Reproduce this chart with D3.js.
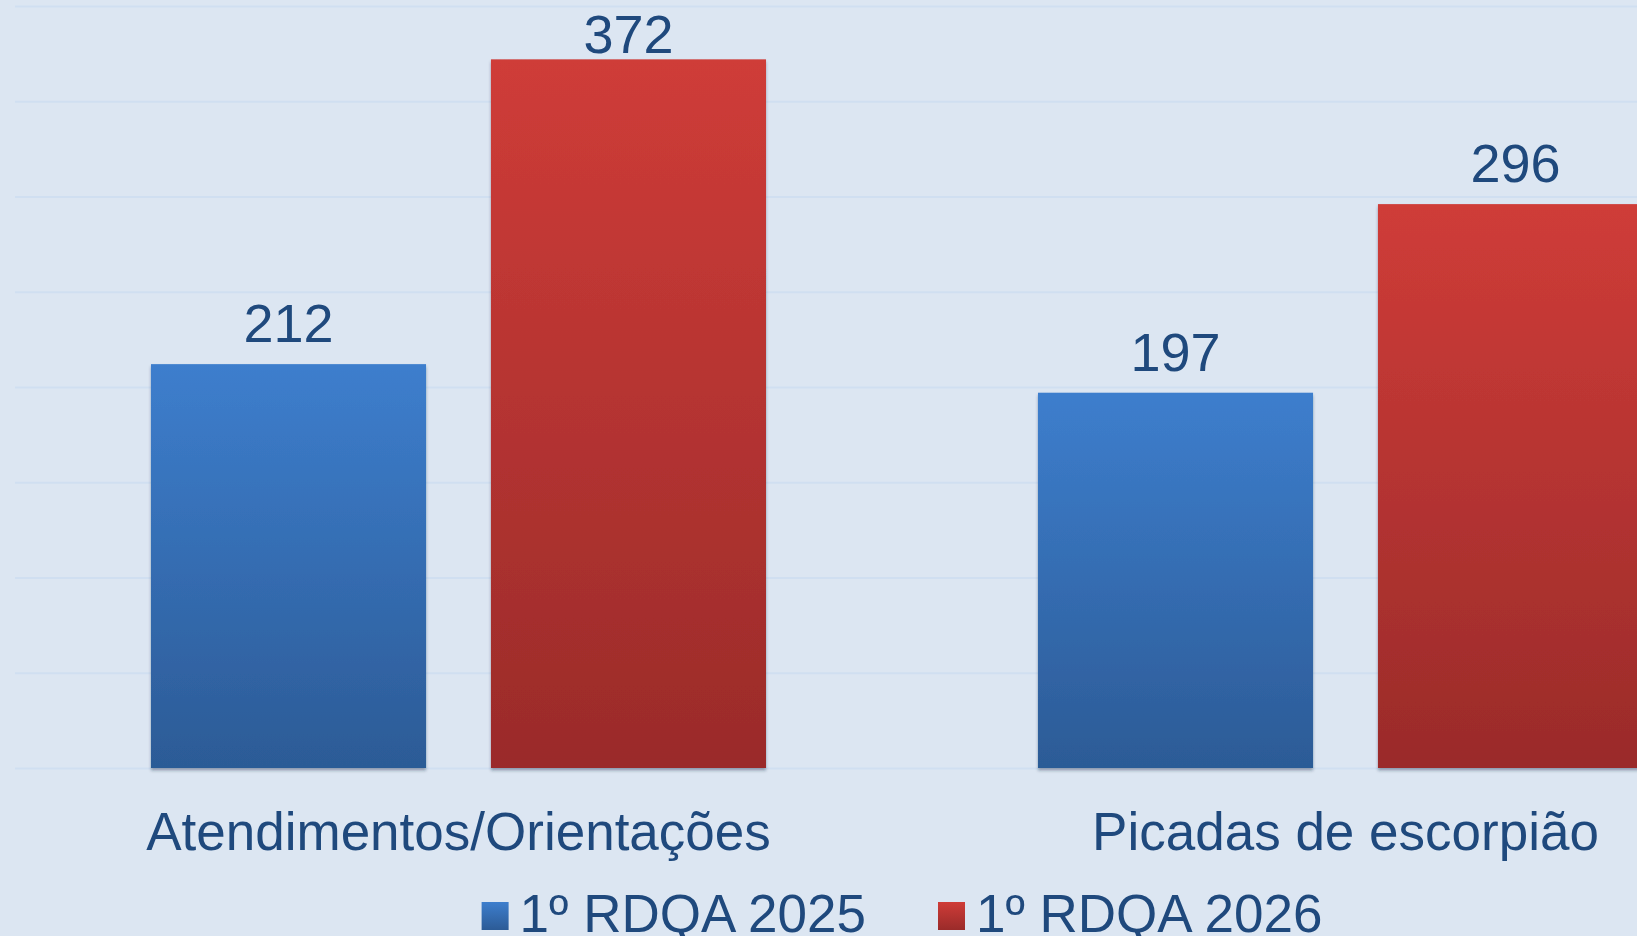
<!DOCTYPE html>
<html lang="pt">
<head>
<meta charset="utf-8">
<title>RDQA – Atendimentos e picadas de escorpião</title>
<script src="https://cdn.jsdelivr.net/npm/d3@7"></script>
<style>
  html, body { margin: 0; padding: 0; background: #dce6f2; overflow: hidden; }
  svg { display: block; }
  text { font-family: "Liberation Sans", Arial, sans-serif; fill: #1f497d; }
</style>
</head>
<body>
<svg id="chart" width="1637" height="936"></svg>
<script>
// Data
const categories = ["Atendimentos/Orientações", "Picadas de escorpião"];
const seriesNames = ["1º RDQA 2025", "1º RDQA 2026"];
const values2025 = [212, 197];
const values2026 = [372, 296];
const yTicks = [0, 50, 100, 150, 200, 250, 300, 350, 400];

const seriesValues = [values2025, values2026];
const rows = categories.map((c, i) => ({
  category: c,
  bars: seriesNames.map((s, j) => ({ series: s, idx: j, value: seriesValues[j][i] }))
}));

const W = 1637, H = 936;
const plot = { left: 15, right: 1789, top: 6, bottom: 768 };

const svg = d3.select("#chart");

// Gradients and bar shadow
const defs = svg.append("defs");
const gradStops = [
  ["#3d7ecd", "#2c5b96"],
  ["#cf3c38", "#9a2b2a"]
];
gradStops.forEach((g, j) => {
  const lg = defs.append("linearGradient")
    .attr("id", "grad" + j)
    .attr("x1", 0).attr("y1", 0).attr("x2", 0).attr("y2", 1);
  lg.append("stop").attr("offset", "0%").attr("stop-color", g[0]);
  lg.append("stop").attr("offset", "100%").attr("stop-color", g[1]);
});
const shadow = defs.append("filter").attr("id", "barShadow")
  .attr("x", "-5%").attr("y", "-5%").attr("width", "110%").attr("height", "110%");
shadow.append("feDropShadow")
  .attr("dx", 0).attr("dy", 2.5).attr("stdDeviation", 1.6)
  .attr("flood-color", "#1a2a40").attr("flood-opacity", 0.38);

// Scales
const x0 = d3.scaleBand().domain(categories).range([plot.left, plot.right]).padding(0);
const x1 = d3.scaleBand().domain(seriesNames).range([0, x0.bandwidth()])
  .paddingInner(0.191).paddingOuter(0.4);
const y = d3.scaleLinear().domain([0, 400]).range([plot.bottom, plot.top]);

// Gridlines
svg.append("g").attr("class", "grid")
  .attr("transform", `translate(${plot.left},0)`)
  .call(d3.axisLeft(y).tickValues(yTicks).tickSize(-(plot.right - plot.left)).tickFormat(""))
  .call(g => g.select(".domain").remove())
  .call(g => g.selectAll("line").attr("stroke", "#d0dff1").attr("stroke-width", 2));

// Bars
const groups = svg.append("g").selectAll("g.cat")
  .data(rows).join("g")
  .attr("class", "cat")
  .attr("transform", d => `translate(${x0(d.category)},0)`);

groups.selectAll("rect")
  .data(d => d.bars).join("rect")
  .attr("x", d => x1(d.series))
  .attr("y", d => y(d.value))
  .attr("width", x1.bandwidth())
  .attr("height", d => y(0) - y(d.value))
  .attr("fill", d => `url(#grad${d.idx})`)
  .attr("filter", "url(#barShadow)");

// Value labels (kept inside the top edge of the chart)
groups.selectAll("text.value")
  .data(d => d.bars).join("text")
  .attr("class", "value")
  .attr("x", d => x1(d.series) + x1.bandwidth() / 2)
  .attr("y", d => Math.max(y(d.value) - 22, 53))
  .attr("text-anchor", "middle")
  .attr("font-size", 54)
  .text(d => d.value);

// Category axis labels
svg.append("g").selectAll("text.cat")
  .data(categories).join("text")
  .attr("class", "cat")
  .attr("x", d => x0(d) + x0.bandwidth() / 2)
  .attr("y", 850)
  .attr("text-anchor", "middle")
  .attr("font-size", 53)
  .text(d => d);

// Legend, centred under the plot
const legend = svg.append("g").attr("class", "legend");
const items = legend.selectAll("g").data(seriesNames).join("g");
items.append("rect")
  .attr("width", 27).attr("height", 28)
  .attr("y", 932 - 30)
  .attr("fill", (d, j) => `url(#grad${j})`);
items.append("text")
  .attr("x", 38)
  .attr("y", 932)
  .attr("font-size", 53)
  .text(d => d);
let cursor = 0;
const itemGap = 72;
items.each(function () {
  const g = d3.select(this);
  g.attr("transform", `translate(${cursor},0)`);
  cursor += 38 + g.select("text").node().getComputedTextLength() + itemGap;
});
const totalW = cursor - itemGap;
const center = (plot.left + plot.right) / 2;
legend.attr("transform", `translate(${center - totalW / 2},0)`);
</script>
</body>
</html>
